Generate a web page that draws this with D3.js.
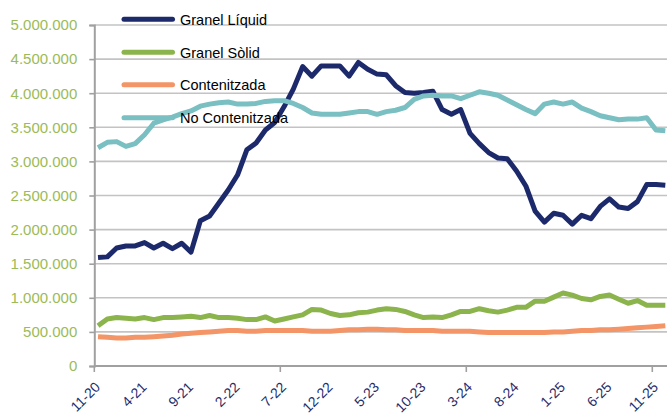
<!DOCTYPE html>
<html>
<head>
<meta charset="utf-8">
<script src="https://cdn.jsdelivr.net/npm/d3@7/dist/d3.min.js"></script>
<style>
  html, body { margin: 0; padding: 0; background: #fff; }
  svg { display: block; font-family: "Liberation Sans", Arial, sans-serif; }
</style>
</head>
<body>
<svg id="chart" width="667" height="416"></svg>
<script>
// Monthly categories, Nov 2020 to Dec 2025
const months = [
  "11-20","12-20",
  "1-21","2-21","3-21","4-21","5-21","6-21","7-21","8-21","9-21","10-21","11-21","12-21",
  "1-22","2-22","3-22","4-22","5-22","6-22","7-22","8-22","9-22","10-22","11-22","12-22",
  "1-23","2-23","3-23","4-23","5-23","6-23","7-23","8-23","9-23","10-23","11-23","12-23",
  "1-24","2-24","3-24","4-24","5-24","6-24","7-24","8-24","9-24","10-24","11-24","12-24",
  "1-25","2-25","3-25","4-25","5-25","6-25","7-25","8-25","9-25","10-25","11-25","12-25"
];

// Category labels shown under the axis
const xTickLabels = ["11-20","4-21","9-21","2-22","7-22","12-22","5-23","10-23","3-24","8-24","1-25","6-25","11-25"];

// Value axis ticks
const yTickValues = [0, 500000, 1000000, 1500000, 2000000, 2500000, 3000000, 3500000, 4000000, 4500000, 5000000];

// Series values (tonnes)
const granelLiquid = [
  1590000,1600000,1730000,1760000,1760000,1810000,1730000,1800000,1720000,1800000,
  1670000,2130000,2200000,2390000,2580000,2800000,3170000,3270000,3460000,3570000,
  3800000,4060000,4390000,4250000,4400000,4400000,4400000,4250000,4450000,4350000,
  4280000,4270000,4110000,4010000,4000000,4010000,4030000,3760000,3690000,3760000,
  3410000,3260000,3130000,3050000,3040000,2860000,2640000,2270000,2110000,2240000,
  2210000,2080000,2210000,2160000,2340000,2450000,2330000,2310000,2410000,2660000,
  2660000,2650000
];
const granelSolid = [
  590000,690000,710000,700000,690000,710000,680000,710000,710000,720000,
  730000,710000,740000,710000,710000,700000,680000,680000,720000,660000,
  690000,720000,750000,830000,820000,770000,740000,750000,780000,790000,
  820000,840000,830000,800000,750000,710000,720000,710000,750000,800000,
  800000,840000,810000,790000,820000,860000,860000,950000,950000,1010000,
  1070000,1040000,990000,970000,1020000,1040000,980000,920000,960000,890000,
  890000,890000
];
const contenitzada = [
  430000,420000,410000,410000,420000,420000,430000,440000,450000,470000,
  480000,490000,500000,510000,520000,520000,510000,510000,520000,520000,
  520000,520000,520000,510000,510000,510000,520000,530000,530000,540000,
  540000,530000,530000,520000,520000,520000,520000,510000,510000,510000,
  510000,500000,490000,490000,490000,490000,490000,490000,490000,500000,
  500000,510000,520000,520000,530000,530000,540000,550000,560000,570000,
  580000,590000
];
const noContenitzada = [
  3200000,3280000,3290000,3220000,3260000,3390000,3560000,3610000,3650000,3700000,
  3740000,3810000,3840000,3860000,3870000,3840000,3840000,3850000,3880000,3890000,
  3890000,3850000,3790000,3710000,3690000,3690000,3690000,3710000,3730000,3730000,
  3690000,3730000,3750000,3790000,3910000,3960000,3970000,3960000,3960000,3920000,
  3970000,4020000,4000000,3970000,3900000,3830000,3760000,3700000,3840000,3870000,
  3840000,3870000,3780000,3730000,3670000,3640000,3610000,3620000,3620000,3640000,
  3460000,3450000
];

const seriesNames = ["Granel Líquid", "Granel Sòlid", "Contenitzada", "No Contenitzada"];
const seriesColors = ["#1c2a6b", "#8cb44c", "#f39566", "#7abfc2"];
const seriesValues = [granelLiquid, granelSolid, contenitzada, noContenitzada];

const W = 667, H = 416;
const plot = { left: 94.3, right: 667, top: 25, bottom: 366 };

const svg = d3.select("#chart");
svg.append("rect").attr("width", W).attr("height", H).attr("fill", "#fff");

// Category index scale; the axis origin sits a little before the first month
const x = d3.scaleLinear().domain([-0.4, months.length - 1]).range([plot.left, plot.left + (months.length - 0.6) * 9.3]);
const y = d3.scaleLinear().domain([0, 5000000]).range([plot.bottom, plot.top]);

// Horizontal gridlines
svg.append("g").selectAll("line")
  .data(yTickValues.filter(v => v > 0))
  .join("line")
  .attr("x1", plot.left).attr("x2", plot.right)
  .attr("y1", d => y(d)).attr("y2", d => y(d))
  .attr("stroke", "#c3c3c3").attr("stroke-width", 1.6);

// Value axis
const fmt = d => d3.format(",")(d).replace(/,/g, ".");
const yAxis = svg.append("g")
  .attr("transform", `translate(${plot.left},0)`)
  .call(d3.axisLeft(y).tickValues(yTickValues).tickFormat(fmt).tickSize(5).tickPadding(12));
yAxis.select(".domain").attr("stroke", "#a0a0a0").attr("stroke-width", 2);
yAxis.selectAll(".tick line").attr("stroke", "#a0a0a0").attr("stroke-width", 1.6);
yAxis.selectAll(".tick text")
  .attr("fill", "#9bbb59")
  .style("font-size", "15px")
  .style("font-family", "'Liberation Sans', Arial, sans-serif");

// Category axis line and its tick marks (every 20 months)
svg.append("line")
  .attr("x1", plot.left).attr("x2", plot.right)
  .attr("y1", plot.bottom).attr("y2", plot.bottom)
  .attr("stroke", "#a0a0a0").attr("stroke-width", 2);
const majorTicks = [-0.4, 19.6, 39.6, 59.6];
svg.append("g").selectAll("line")
  .data(majorTicks)
  .join("line")
  .attr("x1", d => x(d)).attr("x2", d => x(d))
  .attr("y1", plot.bottom).attr("y2", plot.bottom + 6)
  .attr("stroke", "#a0a0a0").attr("stroke-width", 1.6);

// Rotated category labels
svg.append("g").selectAll("text")
  .data(xTickLabels)
  .join("text")
  .attr("transform", d => `translate(${x(months.indexOf(d)) + 3},${plot.bottom + 22}) rotate(-45)`)
  .attr("text-anchor", "end")
  .attr("fill", "#1f2d6b")
  .style("font-size", "14px")
  .text(d => d);

// Series lines
const line = d3.line()
  .x((d, i) => x(i))
  .y(d => y(d));

svg.append("g").selectAll("path")
  .data(seriesValues)
  .join("path")
  .attr("d", d => line(d))
  .attr("fill", "none")
  .attr("stroke", (d, i) => seriesColors[i])
  .attr("stroke-width", 5)
  .attr("stroke-linejoin", "round");

// Legend
const legendY = [19.3, 52.3, 84.7, 117.7];
const legend = svg.append("g").selectAll("g")
  .data(seriesNames)
  .join("g")
  .attr("transform", (d, i) => `translate(0,${legendY[i]})`);
legend.append("line")
  .attr("x1", 124).attr("x2", 172.5)
  .attr("y1", 0).attr("y2", 0)
  .attr("stroke", (d, i) => seriesColors[i])
  .attr("stroke-width", 5)
  .attr("stroke-linecap", "round");
legend.append("text")
  .attr("x", 180).attr("y", 0).attr("dy", "0.36em")
  .attr("fill", "#000")
  .style("font-size", "14.5px")
  .text(d => d);
</script>
</body>
</html>
